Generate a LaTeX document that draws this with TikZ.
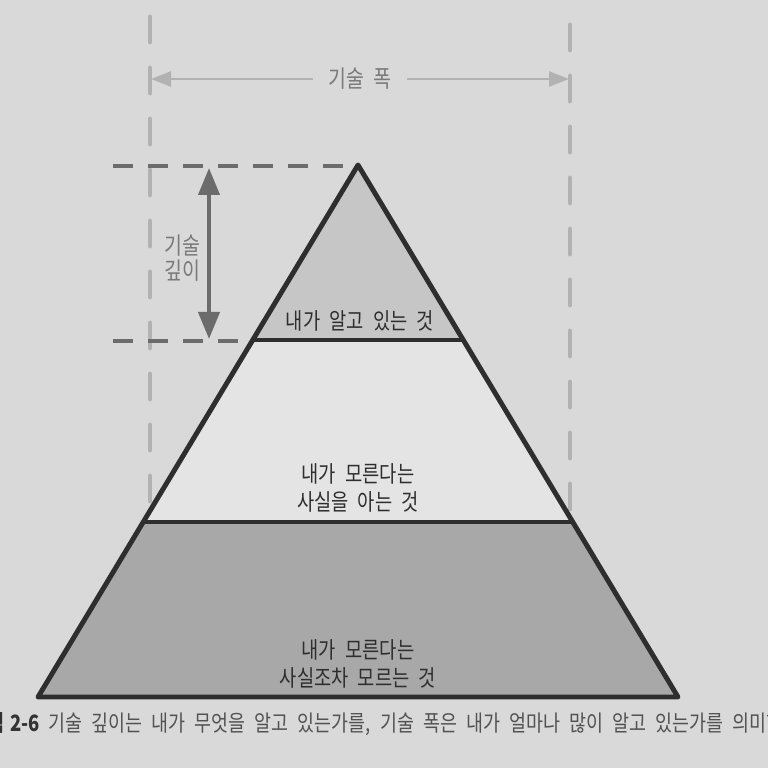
\documentclass[tikz,border=0pt]{standalone}
\usepackage{fontspec}
\newfontfamily\kr[FakeStretch=0.82,WordSpace=2.2]{Noto Sans CJK KR}
\usetikzlibrary{arrows.meta,calc}
\definecolor{paper}{HTML}{D9D9D9}
\definecolor{ink}{HTML}{2E2E2E}
\definecolor{topfill}{HTML}{C6C6C6}
\definecolor{midfill}{HTML}{E4E4E4}
\definecolor{lowfill}{HTML}{A8A8A8}
\definecolor{darkdash}{HTML}{6C6C6C}
\definecolor{lightdash}{HTML}{B2B2B2}
\definecolor{softtext}{HTML}{7A7A7A}
\tikzset{
    edge/.style={line width=2.8pt, draw=ink, line join=round},
    guide/.style={line width=2.8pt, draw=lightdash, line cap=round, dash pattern=on 5mm off 5.2mm},
    level/.style={line width=2.2pt, draw=darkdash, dash pattern=on 4mm off 3mm},
    lbl/.style={font=\kr\fontsize{13}{15.5}\selectfont, text=ink, align=center},
    dimtext/.style={font=\kr\fontsize{13.5}{14.5}\selectfont, text=softtext, align=center}
}
\begin{document}
\begin{tikzpicture}[x=0.2mm, y=-0.2mm]
    % Page
    \useasboundingbox (0,0) rectangle (768,768);
    \fill[paper] (0,0) rectangle (768,768);
    \clip (0,0) rectangle (768,768);

    % Pyramid corners
    \coordinate (P) at (358,165);
    \coordinate (L) at (38,697);
    \coordinate (R) at (678,697);
    \coordinate (A1) at ($(P)!0.329!(L)$);
    \coordinate (B1) at ($(P)!0.329!(R)$);
    \coordinate (A2) at ($(P)!0.671!(L)$);
    \coordinate (B2) at ($(P)!0.671!(R)$);

    % Width guides
    \coordinate (gl1) at (150,17);
    \coordinate (gl2) at (150,515);
    \coordinate (gr1) at (570,25);
    \coordinate (gr2) at (570,515);
    \draw[guide] (gl1) -- (gl2);
    \draw[guide] (gr1) -- (gr2);

    % Layers
    \fill[topfill] (P) -- (A1) -- (B1) -- cycle;
    \fill[midfill] (A1) -- (A2) -- (B2) -- (B1) -- cycle;
    \fill[lowfill] (A2) -- (L) -- (R) -- (B2) -- cycle;
    \draw[edge] (P) -- (L) -- (R) -- cycle;
    \draw[edge] (A1) -- (B1);
    \draw[edge] (A2) -- (B2);

    % Depth guides
    \coordinate (ht) at (113,166);
    \coordinate (hb) at (113,341);
    \coordinate (htend) at (346,166);
    \coordinate (hbend) at (242,341);
    \draw[level] (ht) -- (htend);
    \draw[level] (hb) -- (hbend);

    % Width arrow
    \coordinate (wl) at (151,79);
    \coordinate (wr) at (569,79);
    \draw[lightdash, line width=1.4pt, {Triangle[length=4mm,width=3mm]}-{Triangle[length=4mm,width=3mm]}] (wl) -- (wr);
    \node[dimtext, fill=paper, inner xsep=3mm] (width) at (360,79) {기술 폭};

    % Depth arrow
    \coordinate (dt) at (209,168);
    \coordinate (db) at (209,339);
    \draw[darkdash, line width=2.3pt, {Triangle[length=5.4mm,width=4.2mm]}-{Triangle[length=5.4mm,width=4.2mm]}] (dt) -- (db);
    \node[dimtext] (depth) at (182,258) {기술\\깊이};

    % Layer labels
    \node[lbl] (known) at (360,321) {내가 알고 있는 것};
    \node[lbl] (knownunknown) at (358,488) {내가 모른다는\\사실을 아는 것};
    \node[lbl] (unknownunknown) at (358,664) {내가 모른다는\\사실조차 모르는 것};

    % Caption
    \node[anchor=base west, inner sep=0pt, font=\kr\fontsize{12.8}{15}\selectfont, text=black!68] (caption) at (-30,731)
        {{\bfseries\color{black!80}그림\kern1.2mm 2-6} 기술 깊이는 내가 무엇을 알고 있는가를, 기술 폭은 내가 얼마나 많이 알고 있는가를 의미한다.};
\end{tikzpicture}
\end{document}
